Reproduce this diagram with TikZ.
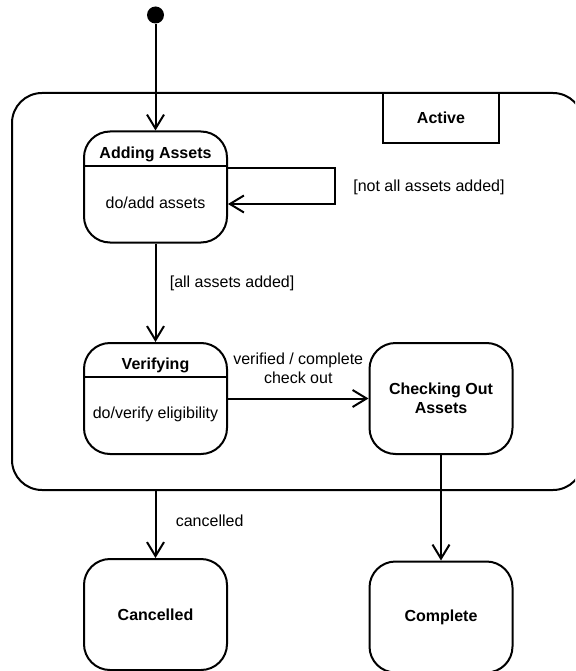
\documentclass[tikz,border=0pt]{standalone}
\usepackage{fontspec}
\setmainfont{Liberation Sans}
\usetikzlibrary{arrows.meta,positioning}

\newcommand\statefont{\fontsize{16}{19}\selectfont}

\tikzset{
  state/.style={draw, rounded corners=26pt, minimum width=143pt, minimum height=111pt, inner sep=0pt},
  superstate/.style={draw, rounded corners=30pt, minimum width=571pt, minimum height=397pt},
  tabbox/.style={draw, fill=white, minimum width=116pt, minimum height=50pt, font=\statefont\bfseries},
  statetitle/.style={font=\statefont\bfseries},
  startdot/.style={circle, fill, minimum size=17pt, inner sep=0pt}
}

\begin{document}
\begin{tikzpicture}[x=1pt, y=-1pt, font=\statefont, line width=2pt,
    >={Straight Barb[length=14pt,width=17pt]}]
  \useasboundingbox (0,0) rectangle (575,671);
  \clip (0,0) rectangle (575,671);

  % composite state
  \node[superstate] (active) at (297.5,291.5) {};
  \node[tabbox] (activetab) at (441,118) {Active};

  \node[startdot] (start) at (155.5,15) {};

  \node[state] (adding) at (155.5,187) {};
  \node[statetitle] (addingtitle) at (155.5,154) {Adding Assets};
  \draw ([yshift=-36pt]adding.north west) -- ([yshift=-36pt]adding.north east);
  \node (addingdo) at (155.5,203) {do/add assets};

  \node[state] (verifying) at (155.5,398.5) {};
  \node[statetitle] (verifyingtitle) at (155.5,365) {Verifying};
  \draw ([yshift=-35pt]verifying.north west) -- ([yshift=-35pt]verifying.north east);
  \node (verifyingdo) at (155.5,414) {do/verify eligibility};

  \node[state, font=\statefont\bfseries, align=center] (checking) at (441,398.5) {Checking Out\\Assets};

  \node[state, font=\statefont\bfseries] (cancelled) at (155.5,614.5) {Cancelled};
  \node[state, font=\statefont\bfseries] (complete) at (441,617) {Complete};

  % transitions
  \draw[->] (start) -- (adding);
  \draw[->] ([yshift=19pt]adding.east) -- ++(107,0) |- ([yshift=-17pt]adding.east);
  \node[anchor=west] (notadded) at (349,187) {[not all assets added]};
  \draw[->] (adding) -- node[pos=0.4, anchor=west, xshift=10pt] {[all assets added]} (verifying);
  \draw[->] (verifying) -- node[above=11pt, align=center] {verified / complete\\check out} (checking);
  \draw[->] (active.south -| cancelled) -- node[pos=0.45, anchor=west, xshift=16pt] {cancelled} (cancelled);
  \draw[->] (checking) -- (complete);
\end{tikzpicture}
\end{document}
